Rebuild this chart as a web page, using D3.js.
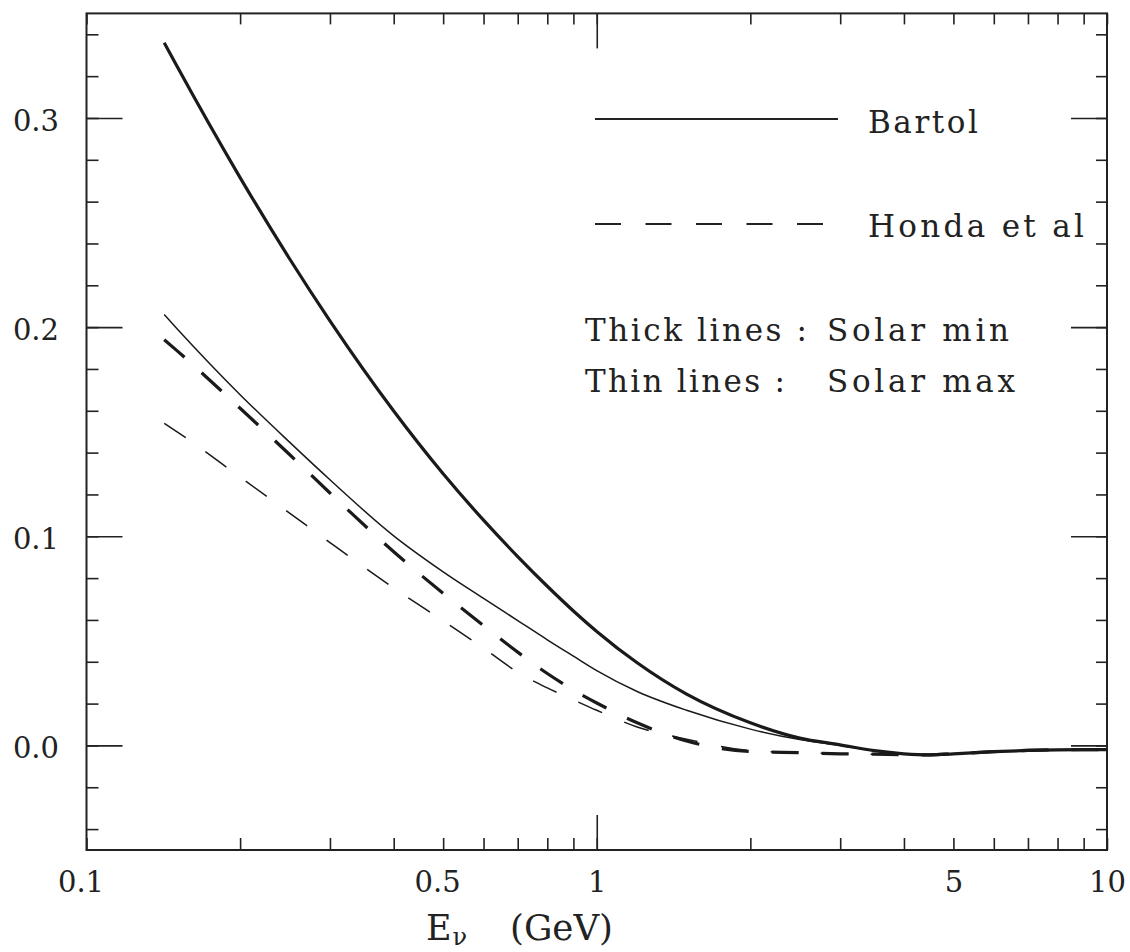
<!DOCTYPE html>
<html><head><meta charset="utf-8">
<script src="https://cdn.jsdelivr.net/npm/d3@7"></script>
<style>
body{margin:0;background:#fff}
svg{display:block;background:#fff}
text{font-family:"DejaVu Serif",serif;fill:#222}
</style>
</head><body>
<svg id="chart" width="1130" height="952"></svg>
<script>
// ---------- data ----------
const energies = [0.142, 0.15, 0.2, 0.25, 0.3, 0.4, 0.5, 0.6, 0.7, 0.8, 0.9, 1.0, 1.2, 1.5, 2.0, 2.5, 3.0, 3.5, 4.0, 4.5, 5.0, 6.0, 7.0, 8.0, 9.0, 10.0];
const bartolSolarMin = [0.336, 0.3253, 0.2715, 0.2327, 0.2030, 0.1599, 0.1299, 0.1077, 0.0903, 0.0761, 0.0643, 0.0545, 0.0395, 0.0245, 0.0108, 0.0035, 0.0003, -0.0025, -0.004, -0.0045, -0.004, -0.003, -0.0024, -0.0021, -0.002, -0.002];
const bartolSolarMax = [0.206, 0.1996, 0.1677, 0.1450, 0.1270, 0.1002, 0.0830, 0.0703, 0.0597, 0.0505, 0.0427, 0.0358, 0.0258, 0.0168, 0.0078, 0.0028, 0.0, -0.0025, -0.004, -0.0045, -0.004, -0.003, -0.0024, -0.0021, -0.002, -0.002];
const hondaSolarMin = [0.194, 0.189, 0.1612, 0.1391, 0.1207, 0.0926, 0.0727, 0.0573, 0.0446, 0.0344, 0.0265, 0.0203, 0.0108, 0.0021, -0.0029, -0.0035, -0.004, -0.0042, -0.0044, -0.0045, -0.004, -0.003, -0.0024, -0.0021, -0.002, -0.002];
const hondaSolarMax = [0.154, 0.1502, 0.1283, 0.1111, 0.0970, 0.0753, 0.0595, 0.0465, 0.0350, 0.0275, 0.0218, 0.0168, 0.0088, 0.0030, -0.0025, -0.0035, -0.004, -0.0042, -0.0044, -0.0045, -0.004, -0.003, -0.0024, -0.0021, -0.002, -0.002];

const xTickValues = [0.1, 0.5, 1, 5, 10];
const xTickLabels = ["0.1", "0.5", "1", "5", "10"];
const xMajorTicks = [1];
const yTickValues = [0.0, 0.1, 0.2, 0.3];
const yTickLabels = ["0.0", "0.1", "0.2", "0.3"];
const legendLabels = ["Bartol", "Honda et al"];
const noteLabels = [["Thick lines :", "Solar min"], ["Thin lines :", "Solar max"]];
const xTitleParts = ["E", "\u03bd", "(GeV)"];

// ---------- layout ----------
const svg = d3.select("#chart");
const L = 86.5, R = 1107, T = 13.4, B = 850;
const ink = "#222";
const x = d3.scaleLog().domain([0.1, 10]).range([L, R]);
const y = d3.scaleLinear().domain([-0.05, 0.35]).range([B, T]);

function styleTicks(g, w) {
  g.select(".domain").remove();
  g.selectAll(".tick line").attr("stroke", ink).attr("stroke-width", w);
  g.selectAll(".tick text").remove();
}

// minor + major ticks on all four sides (inward)
const xMinor = x.ticks();
const yMinor = y.ticks(20);
svg.append("g").attr("transform", `translate(0,${B})`)
  .call(d3.axisBottom(x).tickValues(xMinor).tickSize(-12)).call(g => styleTicks(g, 1.6));
svg.append("g").attr("transform", `translate(0,${B})`)
  .call(d3.axisBottom(x).tickValues(xMajorTicks).tickSize(-35)).call(g => styleTicks(g, 1.6));
svg.append("g").attr("transform", `translate(0,${T})`)
  .call(d3.axisTop(x).tickValues(xMinor).tickSize(-11)).call(g => styleTicks(g, 1.6));
svg.append("g").attr("transform", `translate(0,${T})`)
  .call(d3.axisTop(x).tickValues(xMajorTicks).tickSize(-35)).call(g => styleTicks(g, 1.6));
svg.append("g").attr("transform", `translate(${L},0)`)
  .call(d3.axisLeft(y).tickValues(yMinor).tickSize(-12)).call(g => styleTicks(g, 1.6));
svg.append("g").attr("transform", `translate(${L},0)`)
  .call(d3.axisLeft(y).tickValues(yTickValues).tickSize(-36)).call(g => styleTicks(g, 1.6));
svg.append("g").attr("transform", `translate(${R},0)`)
  .call(d3.axisRight(y).tickValues(yMinor).tickSize(-11)).call(g => styleTicks(g, 1.6));
svg.append("g").attr("transform", `translate(${R},0)`)
  .call(d3.axisRight(y).tickValues(yTickValues).tickSize(-36)).call(g => styleTicks(g, 1.6));

// frame
svg.append("rect").attr("x", L).attr("y", T).attr("width", R - L).attr("height", B - T)
  .attr("fill", "none").attr("stroke", ink).attr("stroke-width", 2);

// tick labels
const xl = svg.append("g").attr("transform", `translate(0,${B})`)
  .call(d3.axisBottom(x).tickValues(xTickValues).tickFormat((d, i) => xTickLabels[i]).tickSize(0));
xl.select(".domain").remove();
xl.selectAll(".tick text").attr("y", 42).attr("dy", null)
  .attr("dx", d => (String(d).includes(".") ? -6 : 0))
  .attr("font-size", 29).attr("font-family", "DejaVu Serif").attr("fill", "#222");

const yl = svg.append("g").attr("transform", `translate(${L},0)`)
  .call(d3.axisLeft(y).tickValues(yTickValues).tickFormat((d, i) => yTickLabels[i]).tickSize(0));
yl.select(".domain").remove();
yl.selectAll(".tick text").attr("x", -(L - 59)).attr("dy", 12.5)
  .attr("font-size", 29).attr("font-family", "DejaVu Serif").attr("fill", "#222");

// axis title
const title = svg.append("text").attr("x", 426).attr("y", 940).attr("font-size", 35);
title.append("tspan").text(xTitleParts[0]);
title.append("tspan").attr("font-size", 24).attr("dy", 5).attr("dx", 1).text(xTitleParts[1]);
svg.append("text").attr("x", 510).attr("y", 940).attr("font-size", 35)
  .attr("textLength", 103).attr("lengthAdjust", "spacingAndGlyphs").text(xTitleParts[2]);

// curves
const series = [
  { v: bartolSolarMin, w: 3.2, dash: null },
  { v: bartolSolarMax, w: 1.5, dash: null },
  { v: hondaSolarMin, w: 3.2, dash: "27,23" },
  { v: hondaSolarMax, w: 1.5, dash: "26,24" }
];
const line = d3.line().x(d => x(d[0])).y(d => y(d[1])).curve(d3.curveMonotoneX);
svg.append("g").selectAll("path").data(series).join("path")
  .attr("d", s => line(energies.map((e, i) => [e, s.v[i]])))
  .attr("fill", "none").attr("stroke", "#1a1a1a")
  .attr("stroke-width", s => s.w)
  .attr("stroke-dasharray", s => s.dash)
  .attr("stroke-linecap", "butt").attr("stroke-linejoin", "round");

// legend
const lg = svg.append("g");
lg.append("line").attr("x1", 595).attr("x2", 838).attr("y1", 119).attr("y2", 119)
  .attr("stroke", ink).attr("stroke-width", 1.8);
lg.append("line").attr("x1", 595).attr("x2", 823).attr("y1", 224).attr("y2", 224)
  .attr("stroke", ink).attr("stroke-width", 1.8).attr("stroke-dasharray", "26,24.5");
lg.append("text").attr("x", 868).attr("y", 133).attr("font-size", 31)
  .attr("textLength", 110).attr("lengthAdjust", "spacing").text(legendLabels[0]);
lg.append("text").attr("x", 868).attr("y", 237).attr("font-size", 31)
  .attr("textLength", 216).attr("lengthAdjust", "spacing").text(legendLabels[1]);

const notePos = [
  { y: 341, l1: 222, l2: 182 },
  { y: 392, l1: 200, l2: 188 }
];
noteLabels.forEach((pair, i) => {
  lg.append("text").attr("x", 585).attr("y", notePos[i].y).attr("font-size", 31)
    .attr("textLength", notePos[i].l1).attr("lengthAdjust", "spacing").text(pair[0]);
  lg.append("text").attr("x", 827).attr("y", notePos[i].y).attr("font-size", 31)
    .attr("textLength", notePos[i].l2).attr("lengthAdjust", "spacing").text(pair[1]);
});
</script>
</body></html>
